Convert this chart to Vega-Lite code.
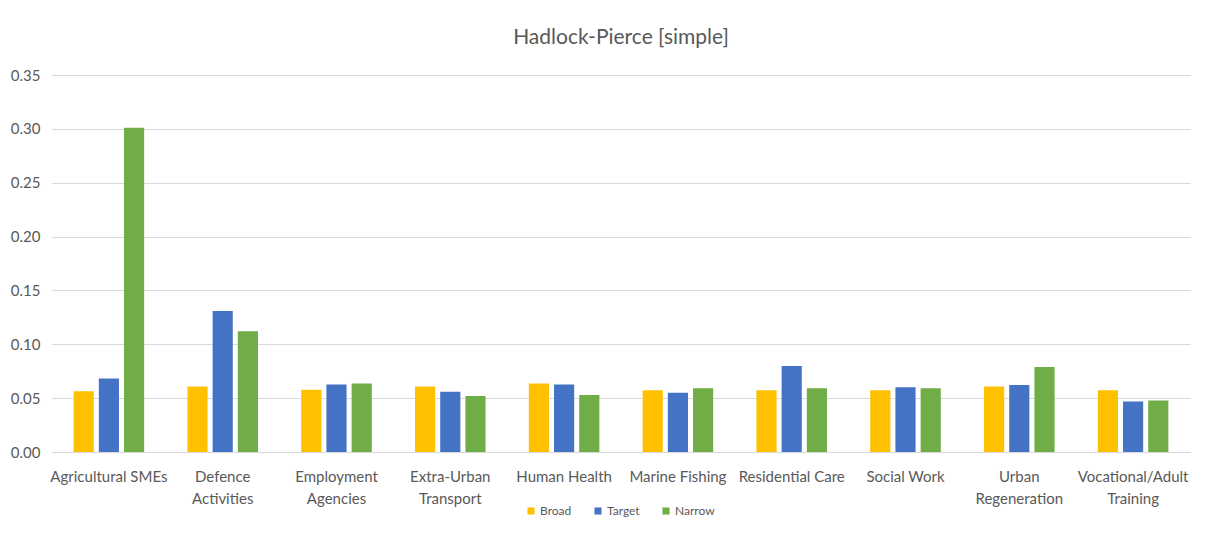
{
  "$schema": "https://vega.github.io/schema/vega-lite/v6.json",
  "width": 1221,
  "height": 533,
  "autosize": {"type": "fit", "contains": "padding"},
  "padding": {"left": 10, "top": 27, "right": 31, "bottom": 27},
  "background": "white",
  "title": {"text": "Hadlock-Pierce [simple]", "fontSize": 21, "font": "Lato", "fontWeight": "normal", "color": "#595959", "offset": 20},
  "config": {"view": {"stroke": null}, "font": "Lato"},
  "data": {"values": [
    {"cat": "Agricultural SMEs", "series": "Broad", "v": 0.0565},
    {"cat": "Agricultural SMEs", "series": "Target", "v": 0.0683},
    {"cat": "Agricultural SMEs", "series": "Narrow", "v": 0.301},
    {"cat": "Defence|Activities", "series": "Broad", "v": 0.0609},
    {"cat": "Defence|Activities", "series": "Target", "v": 0.131},
    {"cat": "Defence|Activities", "series": "Narrow", "v": 0.112},
    {"cat": "Employment|Agencies", "series": "Broad", "v": 0.0578},
    {"cat": "Employment|Agencies", "series": "Target", "v": 0.0627},
    {"cat": "Employment|Agencies", "series": "Narrow", "v": 0.0637},
    {"cat": "Extra-Urban|Transport", "series": "Broad", "v": 0.0609},
    {"cat": "Extra-Urban|Transport", "series": "Target", "v": 0.0559},
    {"cat": "Extra-Urban|Transport", "series": "Narrow", "v": 0.0521},
    {"cat": "Human Health", "series": "Broad", "v": 0.0637},
    {"cat": "Human Health", "series": "Target", "v": 0.0627},
    {"cat": "Human Health", "series": "Narrow", "v": 0.053},
    {"cat": "Marine Fishing", "series": "Broad", "v": 0.0574},
    {"cat": "Marine Fishing", "series": "Target", "v": 0.055},
    {"cat": "Marine Fishing", "series": "Narrow", "v": 0.0593},
    {"cat": "Residential Care", "series": "Broad", "v": 0.0574},
    {"cat": "Residential Care", "series": "Target", "v": 0.0799},
    {"cat": "Residential Care", "series": "Narrow", "v": 0.0593},
    {"cat": "Social Work", "series": "Broad", "v": 0.0574},
    {"cat": "Social Work", "series": "Target", "v": 0.0602},
    {"cat": "Social Work", "series": "Narrow", "v": 0.0593},
    {"cat": "Urban|Regeneration", "series": "Broad", "v": 0.0609},
    {"cat": "Urban|Regeneration", "series": "Target", "v": 0.0621},
    {"cat": "Urban|Regeneration", "series": "Narrow", "v": 0.079},
    {"cat": "Vocational/Adult|Training", "series": "Broad", "v": 0.0574},
    {"cat": "Vocational/Adult|Training", "series": "Target", "v": 0.0468},
    {"cat": "Vocational/Adult|Training", "series": "Narrow", "v": 0.0477}
  ]},
  "mark": {"type": "bar"},
  "encoding": {
    "x": {
      "field": "cat", "type": "nominal", "sort": null, "title": null,
      "scale": {"paddingInner": 0.38, "paddingOuter": 0.19},
      "axis": {"labelExpr": "split(datum.value, '|')", "labelAngle": 0, "labelFontSize": 15, "labelColor": "#595959", "ticks": false, "domainColor": "#d9d9d9", "labelPadding": 24, "labelLineHeight": 22, "labelBaseline": "middle"}
    },
    "xOffset": {"field": "series", "type": "nominal", "sort": ["Broad", "Target", "Narrow"], "scale": {"paddingInner": 0.2}},
    "y": {
      "field": "v", "type": "quantitative", "title": null,
      "scale": {"domain": [0, 0.35]},
      "axis": {"values": [0, 0.05, 0.1, 0.15, 0.2, 0.25, 0.3, 0.35], "format": ".2f", "labelFontSize": 15, "labelColor": "#595959", "ticks": false, "domain": false, "gridColor": "#d9d9d9", "labelPadding": 12}
    },
    "color": {
      "field": "series", "type": "nominal", "sort": ["Broad", "Target", "Narrow"],
      "scale": {"domain": ["Broad", "Target", "Narrow"], "range": ["#FFC000", "#4472C4", "#70AD47"]},
      "legend": {"orient": "none", "legendX": 473, "legendY": 430, "direction": "horizontal", "title": null, "symbolType": "square", "symbolSize": 50, "symbolStrokeWidth": 0, "labelFontSize": 12, "labelColor": "#595959", "columnPadding": 20, "labelOffset": 3}
    }
  }
}
